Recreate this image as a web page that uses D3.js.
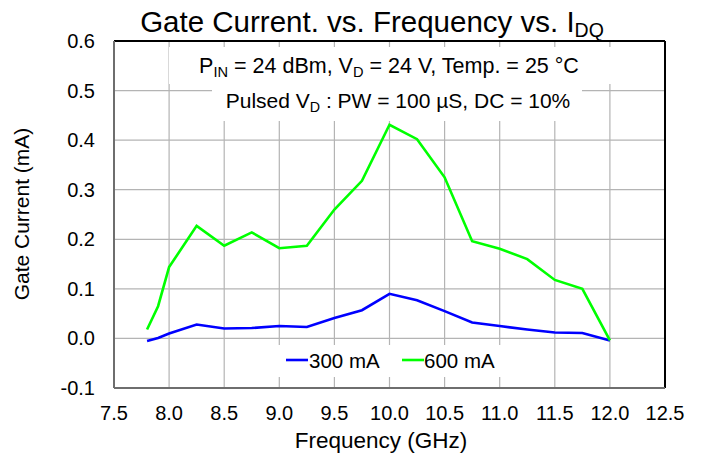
<!DOCTYPE html>
<html>
<head>
<meta charset="utf-8">
<script src="https://cdn.jsdelivr.net/npm/d3@7"></script>
<style>
  html, body { margin: 0; padding: 0; background: #fff; }
  svg text { font-family: "Liberation Sans", Arial, Helvetica, sans-serif; fill: #000; }
</style>
</head>
<body>
<svg id="chart" width="702" height="456"></svg>
<script>
// Measured gate current (mA) versus frequency (GHz) for two quiescent drain currents
const freqGHz      = [7.8, 7.9, 8.0, 8.25, 8.5, 8.75, 9.0, 9.25, 9.5, 9.75, 10.0, 10.25, 10.5, 10.75, 11.0, 11.25, 11.5, 11.75, 12.0];
const current300mA = [-0.005, 0.001, 0.010, 0.028, 0.020, 0.021, 0.025, 0.023, 0.041, 0.057, 0.090, 0.077, 0.055, 0.032, 0.025, 0.018, 0.012, 0.011, -0.004];
const current600mA = [0.018, 0.065, 0.144, 0.227, 0.187, 0.214, 0.182, 0.187, 0.260, 0.318, 0.431, 0.402, 0.325, 0.196, 0.181, 0.160, 0.118, 0.100, -0.004];
const seriesNames  = ["300 mA", "600 mA"];
const seriesColors = ["#0000ff", "#00ff00"];
const xTicks = [7.5, 8.0, 8.5, 9.0, 9.5, 10.0, 10.5, 11.0, 11.5, 12.0, 12.5];
const yTicks = [-0.1, 0.0, 0.1, 0.2, 0.3, 0.4, 0.5, 0.6];

const svg = d3.select("#chart");
const plot = { left: 114, right: 665, top: 41, bottom: 388 };

const x = d3.scaleLinear().domain([7.5, 12.5]).range([plot.left, plot.right]);
const y = d3.scaleLinear().domain([-0.1, 0.6]).range([plot.bottom, plot.top]);

// grid
const grid = svg.append("g").attr("stroke", "#b4b4b4").attr("stroke-width", 1.2);
grid.selectAll("line.v").data(xTicks.slice(1, -1)).join("line")
  .attr("x1", d => x(d)).attr("x2", d => x(d))
  .attr("y1", plot.top).attr("y2", plot.bottom);
grid.selectAll("line.h").data(yTicks.slice(1, -1)).join("line")
  .attr("y1", d => y(d)).attr("y2", d => y(d))
  .attr("x1", plot.left).attr("x2", plot.right);

// white panels behind the condition notes and the legend
const panels = [
  { x0: 169, x1: 614, y0: 47, y1: 84 },
  { x0: 212, x1: 582, y0: 84, y1: 121 },
  { x0: 276, x1: 504, y0: 345, y1: 377 }
];
svg.append("g").selectAll("rect").data(panels).join("rect")
  .attr("x", d => d.x0).attr("y", d => d.y0)
  .attr("width", d => d.x1 - d.x0).attr("height", d => d.y1 - d.y0)
  .attr("fill", "#fff");

// frame: darker top/right, grey left/bottom
svg.append("line").attr("x1", plot.left).attr("x2", plot.right).attr("y1", plot.top).attr("y2", plot.top)
  .attr("stroke", "#000").attr("stroke-width", 2);
svg.append("line").attr("x1", plot.right).attr("x2", plot.right).attr("y1", plot.top).attr("y2", plot.bottom)
  .attr("stroke", "#000").attr("stroke-width", 2);
svg.append("line").attr("x1", plot.left).attr("x2", plot.left).attr("y1", plot.top).attr("y2", plot.bottom)
  .attr("stroke", "#6e6e6e").attr("stroke-width", 2);
svg.append("line").attr("x1", plot.left).attr("x2", plot.right).attr("y1", plot.bottom).attr("y2", plot.bottom)
  .attr("stroke", "#6e6e6e").attr("stroke-width", 2);

// tick labels
svg.append("g").selectAll("text").data(xTicks).join("text")
  .attr("x", d => x(d)).attr("y", 420)
  .attr("text-anchor", "middle").attr("font-size", 20)
  .text(d => d.toFixed(1));
svg.append("g").selectAll("text").data(yTicks).join("text")
  .attr("x", 95).attr("y", d => y(d) + 7)
  .attr("text-anchor", "end").attr("font-size", 20)
  .text(d => d.toFixed(1));

// axis titles
svg.append("text").attr("x", 381).attr("y", 448)
  .attr("text-anchor", "middle").attr("font-size", 22.5).text("Frequency (GHz)");
svg.append("text").attr("transform", "translate(29,214) rotate(-90)")
  .attr("text-anchor", "middle").attr("font-size", 21).text("Gate Current (mA)");

// title with subscript
const title = svg.append("text").attr("x", 372).attr("y", 32)
  .attr("text-anchor", "middle").attr("font-size", 29.5);
title.append("tspan").text("Gate Current. vs. Frequency vs. I");
title.append("tspan").attr("font-size", 19.5).attr("dy", 5).text("DQ");

// condition notes
function richText(parts, cx, cy, size) {
  const t = svg.append("text").attr("x", cx).attr("y", cy)
    .attr("text-anchor", "middle").attr("font-size", size);
  let shift = 0;
  parts.forEach(p => {
    const s = t.append("tspan").text(p.t);
    const target = p.sub ? 4 : 0;
    s.attr("dy", target - shift);
    shift = target;
    if (p.sub) s.attr("font-size", size * 0.68);
  });
  return t;
}
richText([
  { t: "P" }, { t: "IN", sub: true }, { t: " = 24 dBm, V" }, { t: "D", sub: true },
  { t: " = 24 V, Temp. = 25 °C" }
], 389, 73, 21.5);
richText([
  { t: "Pulsed V" }, { t: "D", sub: true }, { t: " : PW = 100 µS, DC = 10%" }
], 398, 108, 21);

// series
const series = [current300mA, current600mA];
series.forEach((vals, k) => {
  const line = d3.line().x((d, i) => x(freqGHz[i])).y(d => y(d));
  svg.append("path").datum(vals)
    .attr("d", line)
    .attr("fill", "none")
    .attr("stroke", seriesColors[k])
    .attr("stroke-width", 2.6)
    .attr("stroke-linejoin", "miter");
});

// legend
const legendPos = [{ x: 286, tx: 309 }, { x: 402, tx: 424 }];
const lg = svg.append("g");
seriesNames.forEach((name, k) => {
  lg.append("line").attr("x1", legendPos[k].x).attr("x2", legendPos[k].x + 22)
    .attr("y1", 360).attr("y2", 360)
    .attr("stroke", seriesColors[k]).attr("stroke-width", 2.6);
  lg.append("text").attr("x", legendPos[k].tx).attr("y", 368)
    .attr("font-size", 20.5).text(name);
});
</script>
</body>
</html>
